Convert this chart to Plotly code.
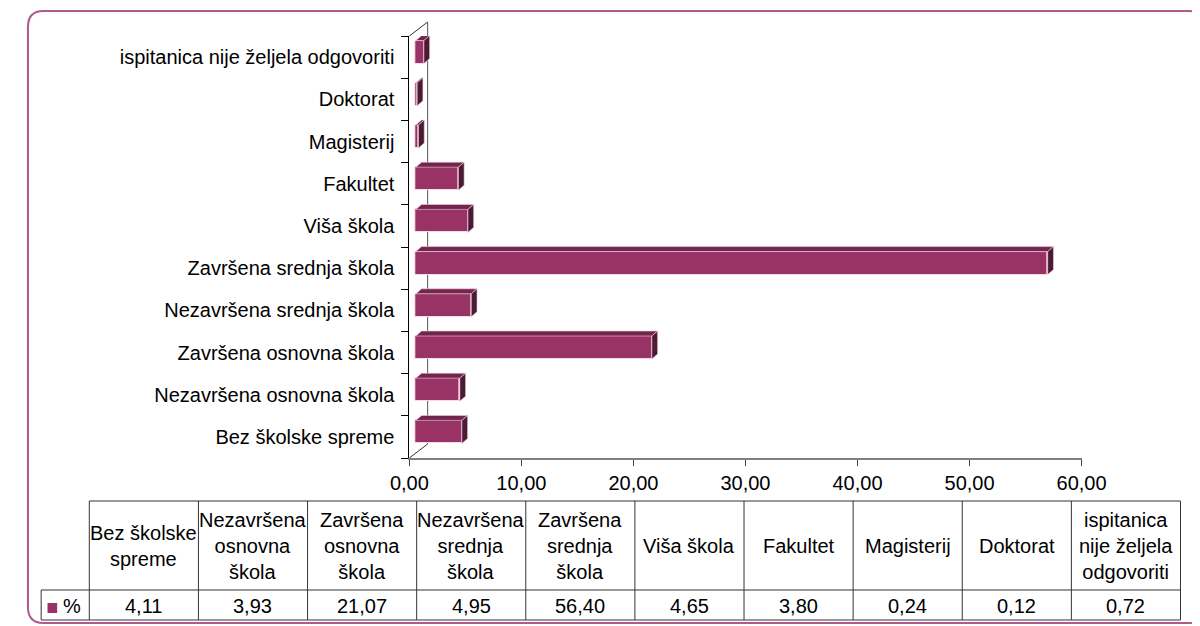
import plotly.graph_objects as go

# ---------------- data ----------------
categories = [
    "Bez školske spreme",
    "Nezavršena osnovna škola",
    "Završena osnovna škola",
    "Nezavršena srednja škola",
    "Završena srednja škola",
    "Viša škola",
    "Fakultet",
    "Magisterij",
    "Doktorat",
    "ispitanica nije željela odgovoriti",
]
values = [4.11, 3.93, 21.07, 4.95, 56.40, 4.65, 3.80, 0.24, 0.12, 0.72]
table_labels = [
    "Bez školske<br>spreme",
    "Nezavršena<br>osnovna<br>škola",
    "Završena<br>osnovna<br>škola",
    "Nezavršena<br>srednja<br>škola",
    "Završena<br>srednja<br>škola",
    "Viša škola",
    "Fakultet",
    "Magisterij",
    "Doktorat",
    "ispitanica<br>nije željela<br>odgovoriti",
]
series_name = "%"
x_ticks = [0, 10, 20, 30, 40, 50, 60]

# ---------------- style / layout constants ----------------
# the page body has an 8px margin; coordinates below are screen pixels
BODY = 8
W, H = 1200 - BODY, 626 - BODY
PL, PR = 405, 1103          # plot area left/right (screen px)
PT, PB = 36, 458            # plot area top/bottom (screen px)
X_MAX = 60
N = len(categories)
kx = (PR - PL) / X_MAX      # px per x unit
ky = (PB - PT) / N          # px per category

FRONT_DX, FRONT_DY = 6.7 / kx, 5.0 / ky
DEPTH_DX, DEPTH_DY = 6.0 / kx, 5.0 / ky
BAR_H = 23.0 / ky
WALL_DX, WALL_DY = 19, 14   # px

C_FRONT = "#993366"
C_TOP = "#74254d"
C_SIDE = "#4d1a33"
FONT = "Liberation Sans, Arial, sans-serif"
FS = 20


def px(x):
    return (x - BODY) / W


def py(y):
    return 1 - (y - BODY) / H


fig = go.Figure()

# front faces
fig.add_trace(go.Bar(
    orientation="h",
    y=list(range(N)),
    x=values,
    base=[FRONT_DX] * N,
    width=BAR_H,
    offset=FRONT_DY - BAR_H / 2,
    marker=dict(color=C_FRONT, line=dict(color="rgba(255,225,240,0.9)", width=1)),
    name=series_name,
    hoverinfo="skip",
    showlegend=False,
))

# top and side faces (3D depth)
top_x, top_y, side_x, side_y = [], [], [], []
for i, v in enumerate(values):
    x0 = FRONT_DX
    x1 = FRONT_DX + v
    yt = i + FRONT_DY + BAR_H / 2
    yb = i + FRONT_DY - BAR_H / 2
    top_x += [x0, x1, x1 + DEPTH_DX, x0 + DEPTH_DX, x0, None]
    top_y += [yt, yt, yt + DEPTH_DY, yt + DEPTH_DY, yt, None]
    side_x += [x1, x1 + DEPTH_DX, x1 + DEPTH_DX, x1, x1, None]
    side_y += [yb, yb + DEPTH_DY, yt + DEPTH_DY, yt, yb, None]

fig.add_trace(go.Scatter(x=top_x, y=top_y, mode="lines", fill="toself",
                         fillcolor=C_TOP, line=dict(width=0.6, color="#f0d0e0"),
                         hoverinfo="skip", showlegend=False))
fig.add_trace(go.Scatter(x=side_x, y=side_y, mode="lines", fill="toself",
                         fillcolor=C_SIDE, line=dict(width=0.6, color="#f0d0e0"),
                         hoverinfo="skip", showlegend=False))

shapes = []

# outer rounded border (right side runs off the page)
bx0, by0, bx1, by1, r = 9, 11, 1230, 623, 16
path = (
    f"M {px(bx0 + r)},{py(by0)} L {px(bx1 - r)},{py(by0)} "
    f"Q {px(bx1)},{py(by0)} {px(bx1)},{py(by0 + r)} L {px(bx1)},{py(by1 - r)} "
    f"Q {px(bx1)},{py(by1)} {px(bx1 - r)},{py(by1)} L {px(bx0 + r)},{py(by1)} "
    f"Q {px(bx0)},{py(by1)} {px(bx0)},{py(by1 - r)} L {px(bx0)},{py(by0 + r)} "
    f"Q {px(bx0)},{py(by0)} {px(bx0 + r)},{py(by0)} Z"
)
shapes.append(dict(type="path", path=path, xref="paper", yref="paper",
                   line=dict(color="#b05a8a", width=2), layer="below"))

# 3D wall lines
wall = dict(color="#333333", width=1)
shapes.append(dict(type="line", xref="paper", yref="paper", layer="below",
                   x0=px(PL), y0=py(PT), x1=px(PL + WALL_DX), y1=py(PT - WALL_DY), line=wall))
shapes.append(dict(type="line", xref="paper", yref="paper", layer="below",
                   x0=px(PL), y0=py(PB), x1=px(PL + WALL_DX), y1=py(PB - WALL_DY), line=wall))
shapes.append(dict(type="line", xref="paper", yref="paper", layer="below",
                   x0=px(PL + WALL_DX), y0=py(PT - WALL_DY), x1=px(PL + WALL_DX), y1=py(PB - WALL_DY),
                   line=dict(color="#555555", width=1)))

# data table
T_TOP, T_MID, T_BOT = 501, 590, 620
COL0, COLW, LEG_L = 72.7, 113.3, 22.7
tline = dict(color="#333333", width=1)
t_right = COL0 + N * COLW
shapes.append(dict(type="line", xref="paper", yref="paper", x0=px(COL0), x1=px(t_right),
                   y0=py(T_TOP), y1=py(T_TOP), line=tline))
for yy in (T_MID, T_BOT):
    shapes.append(dict(type="line", xref="paper", yref="paper", x0=px(LEG_L), x1=px(t_right),
                       y0=py(yy), y1=py(yy), line=tline))
shapes.append(dict(type="line", xref="paper", yref="paper", x0=px(LEG_L), x1=px(LEG_L),
                   y0=py(T_MID), y1=py(T_BOT), line=tline))
for k in range(N + 1):
    xx = COL0 + k * COLW
    shapes.append(dict(type="line", xref="paper", yref="paper", x0=px(xx), x1=px(xx),
                       y0=py(T_TOP), y1=py(T_BOT), line=tline))
# legend key
shapes.append(dict(type="rect", xref="paper", yref="paper", x0=px(29.3), x1=px(39.3),
                   y0=py(613), y1=py(603), fillcolor=C_FRONT, line=dict(width=0)))

annotations = []
vrow_c = (T_MID + T_BOT) / 2 + 1
hrow_c = (T_TOP + T_MID) / 2
for k, (lab, v) in enumerate(zip(table_labels, values)):
    cx = COL0 + (k + 0.5) * COLW
    annotations.append(dict(text=lab, x=px(cx), y=py(hrow_c), xref="paper", yref="paper",
                            xanchor="center", yanchor="middle", showarrow=False,
                            font=dict(family=FONT, size=FS, color="black")))
    annotations.append(dict(text=f"{v:.2f}".replace(".", ","), x=px(cx), y=py(vrow_c),
                            xref="paper", yref="paper", xanchor="center", yanchor="middle",
                            showarrow=False, font=dict(family=FONT, size=FS, color="black")))
annotations.append(dict(text=series_name, x=px(55), y=py(vrow_c), xref="paper", yref="paper",
                        xanchor="center", yanchor="middle", showarrow=False,
                        font=dict(family=FONT, size=FS, color="black")))

fig.update_layout(
    width=W, height=H,
    margin=dict(l=0, r=0, t=0, b=0),
    paper_bgcolor="white", plot_bgcolor="rgba(0,0,0,0)",
    separators=", ",
    showlegend=False,
    bargap=0,
    shapes=shapes,
    annotations=annotations,
    font=dict(family=FONT, size=FS, color="black"),
    xaxis=dict(
        domain=[px(PL), px(PR)], range=[0, X_MAX], tickvals=x_ticks, tickformat=".2f",
        ticks="outside", ticklen=6, tickcolor="#404040", showline=True,
        linecolor="#808080", linewidth=1.5, showgrid=False, zeroline=False,
        tickfont=dict(family=FONT, size=FS, color="black"), ticklabelstandoff=0,
    ),
    yaxis=dict(
        domain=[py(PB), py(PT)], range=[-0.5, N - 0.5], tickvals=list(range(N)),
        ticktext=categories, ticks="", showline=True, linecolor="black", linewidth=1,
        showgrid=False, zeroline=False, ticklabelstandoff=10,
        tickfont=dict(family=FONT, size=FS, color="black"),
        minor=dict(ticks="outside", ticklen=7, tick0=-0.5, dtick=1, tickcolor="black",
                   showgrid=False),
    ),
)

fig.write_html("out.html")
